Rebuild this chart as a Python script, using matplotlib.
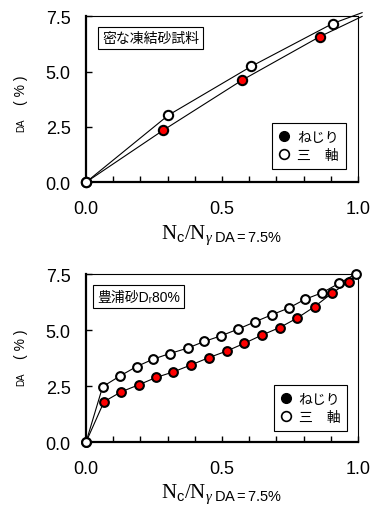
import matplotlib
matplotlib.use("Agg")
from matplotlib import pyplot as plt
from matplotlib.lines import Line2D

plt.rcParams['font.family'] = ['Liberation Sans', 'Noto Sans CJK JP', 'DejaVu Sans']
plt.rcParams['mathtext.fontset'] = 'custom'
plt.rcParams['mathtext.rm'] = 'Liberation Serif'
plt.rcParams['mathtext.it'] = 'Liberation Serif:italic'
plt.rcParams['mathtext.sf'] = 'Liberation Sans'

# top panel: dense frozen sand
top_torsion_x = [0.0, 0.284, 0.575, 0.860]
top_torsion_y = [0.0, 2.35, 4.62, 6.58]
top_triax_x = [0.0, 0.303, 0.607, 0.907]
top_triax_y = [0.0, 3.03, 5.23, 7.17]
# trend lines (end beyond the frame)
top_torsion_line_x = [0.0, 0.284, 0.575, 0.860, 1.015]
top_torsion_line_y = [0.0, 2.35, 4.62, 6.58, 7.49]
top_triax_line_x = [0.0, 0.303, 0.607, 0.907, 1.015]
top_triax_line_y = [0.0, 3.03, 5.23, 7.17, 7.66]

# bottom panel: Toyoura sand Dr 80%
bot_torsion_x = [0.0, 0.066, 0.129, 0.195, 0.257, 0.321, 0.386, 0.452, 0.517,
                 0.581, 0.646, 0.712, 0.776, 0.840, 0.905, 0.967]
bot_torsion_y = [0.0, 1.80, 2.24, 2.56, 2.88, 3.13, 3.44, 3.77, 4.06,
                 4.40, 4.77, 5.11, 5.53, 6.04, 6.65, 7.16]
bot_triax_x = [0.0, 0.061, 0.125, 0.186, 0.247, 0.308, 0.373, 0.435, 0.496,
               0.559, 0.622, 0.683, 0.745, 0.805, 0.867, 0.930, 0.991]
bot_triax_y = [0.0, 2.47, 2.95, 3.37, 3.70, 3.95, 4.19, 4.49, 4.74,
               5.04, 5.37, 5.68, 5.98, 6.37, 6.66, 7.08, 7.50]

legend_labels = ['ねじり', '三\u3000軸']
panel_titles = ['密な凍結砂試料', '豊浦砂D\u1d6380%']

fig = plt.figure(figsize=(3.71, 5.06), dpi=100)
ax1 = fig.add_axes([0.232, 0.638, 0.733, 0.328])
ax2 = fig.add_axes([0.232, 0.1245, 0.733, 0.332])


def draw_panel(ax, tx, ty, tlx, tly, ax_x, ax_y, alx, aly, title, title_pos, leg_anchor, ms):
    ax.plot(tlx, tly, color='black', lw=0.8, clip_on=False, zorder=2)
    ax.plot(alx, aly, color='black', lw=0.8, clip_on=False, zorder=2)
    ax.plot(tx, ty, 'o', ms=ms, mfc='red', mec='black', mew=1.5, ls='none',
            clip_on=False, zorder=3)
    ax.plot(ax_x, ax_y, 'o', ms=ms, mfc='white', mec='black', mew=1.5, ls='none',
            clip_on=False, zorder=4)

    ax.set_xlim(0, 1.0)
    ax.set_ylim(0, 7.5)
    ax.set_xticks([0.0, 0.5, 1.0])
    ax.set_xticklabels(['0.0', '0.5', '1.0'])
    ax.set_xticks([0.1 * i for i in range(1, 10)], minor=True)
    ax.set_yticks([0.0, 2.5, 5.0, 7.5])
    ax.set_yticklabels(['0.0', '2.5', '5.0', '7.5'])
    ax.tick_params(axis='x', which='both', direction='in', length=4, width=1,
                   labelsize=13, pad=13)
    ax.tick_params(axis='y', which='both', direction='in', length=4, width=1,
                   labelsize=13, pad=11)
    for side in ['left', 'bottom']:
        ax.spines[side].set_linewidth(1.6)
    for side in ['top', 'right']:
        ax.spines[side].set_linewidth(0.8)

    ax.text(title_pos[0], title_pos[1], title, transform=ax.transAxes,
            ha='center', va='center', fontsize=10,
            bbox=dict(boxstyle='square,pad=0.3', fc='white', ec='black', lw=0.8))

    handles = [Line2D([], [], marker='o', ls='none', ms=7, mfc='black', mec='black'),
               Line2D([], [], marker='o', ls='none', ms=7, mfc='white', mec='black', mew=1.2)]
    leg = ax.legend(handles, legend_labels, loc='lower right', bbox_to_anchor=leg_anchor,
                    fontsize=10, frameon=True, fancybox=False, edgecolor='black',
                    framealpha=1, handlelength=0.8, handletextpad=0.5,
                    labelspacing=0.3, borderpad=0.5, borderaxespad=0)
    leg.get_frame().set_linewidth(0.8)

    ax.set_xlabel(r'$\mathrm{N}_{\mathsf{c}}/\mathrm{N}_{\gamma\ \mathsf{DA{=}7.5\%}}$',
                  fontsize=15)


draw_panel(ax1, top_torsion_x, top_torsion_y, top_torsion_line_x, top_torsion_line_y,
           top_triax_x, top_triax_y, top_triax_line_x, top_triax_line_y,
           panel_titles[0], (0.237, 0.870), (0.954, 0.078), 6.7)
draw_panel(ax2, bot_torsion_x, bot_torsion_y, bot_torsion_x + [1.0], bot_torsion_y + [7.5],
           bot_triax_x, bot_triax_y, bot_triax_x, bot_triax_y,
           panel_titles[1], (0.193, 0.866), (0.96, 0.065), 6.3)

ax1.xaxis.set_label_coords(0.5, -0.24)
ax2.xaxis.set_label_coords(0.5, -0.235)

# y axis labels: small "DA" and "( % )"
for ycen_da, ycen_pct in [(1 - 125 / 506, 1 - 90 / 506), (1 - 379 / 506, 1 - 344 / 506)]:
    fig.text(21 / 371, ycen_da, 'DA', rotation=90, ha='center', va='center', fontsize=7)
    fig.text(21 / 371, ycen_pct, '( % )', rotation=90, ha='center', va='center', fontsize=10)

fig.savefig('out.png', dpi=100)
